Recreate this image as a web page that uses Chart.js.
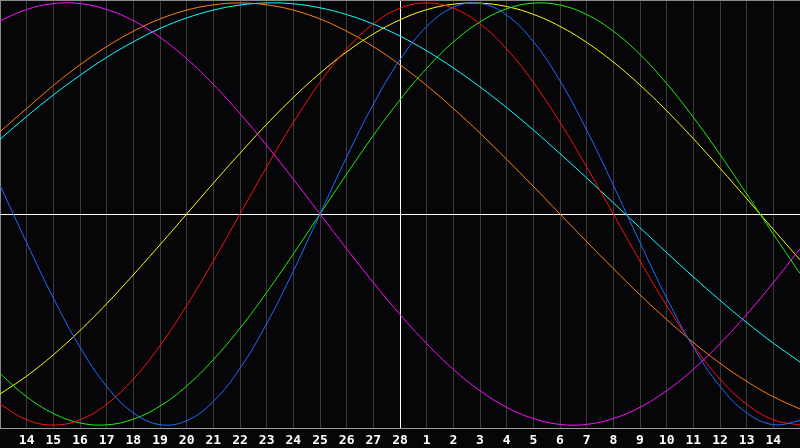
<!DOCTYPE html>
<html>
<head>
<meta charset="utf-8">
<script src="https://cdn.jsdelivr.net/npm/chart.js@4/dist/chart.umd.min.js"></script>
<style>
  html, body { margin: 0; padding: 0; background: #060609; }
  canvas { display: block; }
</style>
</head>
<body>
<canvas id="bioChart" width="800" height="448"></canvas>
<script>
// dias del eje X (fin de un mes de 28 dias y comienzo del siguiente)
const days = ["13","14","15","16","17","18","19","20","21","22","23","24","25","26","27","28",
  "1","2","3","4","5","6","7","8","9","10","11","12","13","14","15"];
const todayIndex = 15;

// curvas (en %)
const physical = [13.6, -13.6, -39.8, -63.1, -81.7, -94.2, -99.8, -97.9, -88.8, -73.1, -52.0, -27.0, 0, 27.0, 52.0, 73.1,
  88.8, 97.9, 99.8, 94.2, 81.7, 63.1, 39.8, 13.6, -13.6, -39.8, -63.1, -81.7, -94.2, -99.8, -97.9];
const emotional = [-90.1, -97.5, -100, -97.5, -90.1, -78.2, -62.4, -43.4, -22.3, 0, 22.3, 43.4, 62.4, 78.2, 90.1, 97.5,
  100, 97.5, 90.1, 78.2, 62.4, 43.4, 22.3, 0, -22.3, -43.4, -62.4, -78.2, -90.1, -97.5, -100];
const intellectual = [-75.6, -86.6, -94.5, -99.0, -99.9, -97.2, -91.0, -81.5, -69.0, -54.1, -37.2, -18.9, 0, 18.9, 37.2, 54.1,
  69.0, 81.5, 91.0, 97.2, 99.9, 99.0, 94.5, 86.6, 75.6, 61.8, 45.8, 28.2, 9.5, -9.5, -28.2];
const intuitive = [91.6, 96.9, 99.7, 99.7, 96.9, 91.6, 83.7, 73.6, 61.4, 47.6, 32.5, 16.5, 0, -16.5, -32.5, -47.6,
  -61.4, -73.6, -83.7, -91.6, -96.9, -99.7, -99.7, -96.9, -91.6, -83.7, -73.6, -61.4, -47.6, -32.5, -16.5];
const aesthetic = [-85.3, -76.8, -66.7, -55.2, -42.5, -28.8, -14.6, 0, 14.6, 28.8, 42.5, 55.2, 66.7, 76.8, 85.3, 92.0,
  96.8, 99.4, 99.9, 98.3, 94.6, 88.9, 81.3, 72.0, 61.1, 48.9, 35.7, 21.7, 7.3, -7.3, -21.7];
const awareness = [39.0, 50, 60.9, 70.7, 79.3, 86.6, 92.4, 96.6, 99.1, 100, 99.1, 96.6, 92.4, 86.6, 79.3, 70.7,
  60.9, 50, 38.3, 25.9, 13.1, 0, -13.1, -25.9, -38.3, -50, -60.9, -70.7, -79.3, -86.6, -92.4];
const spiritual = [35.4, 46.2, 56.4, 65.7, 74.2, 81.6, 87.9, 92.9, 96.6, 99.0, 100.0, 99.6, 97.7, 94.5, 90.0, 84.3,
  77.3, 69.2, 60.2, 50.4, 39.8, 28.6, 17.1, 5.3, -6.5, -18.3, -29.8, -40.9, -51.4, -61.2, -70.1];

const yLimit = 101.4;

function serie(data, color) {
  return { data, borderColor: color, borderWidth: 1, pointRadius: 0, tension: 0.4, fill: false };
}

const ctx = document.getElementById("bioChart").getContext("2d");
const chart = new Chart(ctx, {
  type: "line",
  data: {
    labels: days,
    datasets: [
      serie(physical, "#1f6bff"),
      serie(emotional, "#ff1010"),
      serie(intellectual, "#22ee10"),
      serie(intuitive, "#ff10ff"),
      serie(aesthetic, "#ffff10"),
      serie(awareness, "#ff8010"),
      serie(spiritual, "#10ffff")
    ]
  },
  plugins: [{
    id: "fondo",
    beforeDraw(c) {
      const g = c.ctx;
      g.save();
      g.fillStyle = "#060609";
      g.fillRect(0, 0, c.width, c.height);
      g.restore();
    }
  }],
  options: {
    responsive: false,
    devicePixelRatio: 1,
    animation: false,
    layout: { padding: 0 },
    plugins: { legend: { display: false }, tooltip: { enabled: false } },
    scales: {
      x: {
        offset: false,
        afterFit: s => { s.height = 20; s.paddingLeft = 0; s.paddingRight = 0; },
        grid: {
          drawTicks: false,
          lineWidth: 1,
          color: c => c.index === todayIndex ? "#ffffff" : (c.index === 0 ? "#8a8a8a" : "#3a3a3a")
        },
        border: { color: "#9a9a9a", width: 1 },
        ticks: {
          autoSkip: false,
          maxRotation: 0,
          padding: 5,
          color: "#ffffff",
          font: { family: "DejaVu Sans Mono", size: 13, weight: "bold" },
          callback: (v, i) => (i === 0 || i === days.length - 1) ? "" : days[i]
        }
      },
      y: {
        min: -yLimit,
        max: yLimit,
        afterFit: s => { s.width = 0; },
        afterBuildTicks: s => { s.ticks = [{ value: -yLimit }, { value: 0 }, { value: yLimit }]; },
        grid: {
          drawTicks: false,
          color: c => c.tick.value === 0 ? "#ffffff" : "#8a8a8a"
        },
        border: { display: false },
        ticks: { display: false }
      }
    }
  }
});
</script>
</body>
</html>
